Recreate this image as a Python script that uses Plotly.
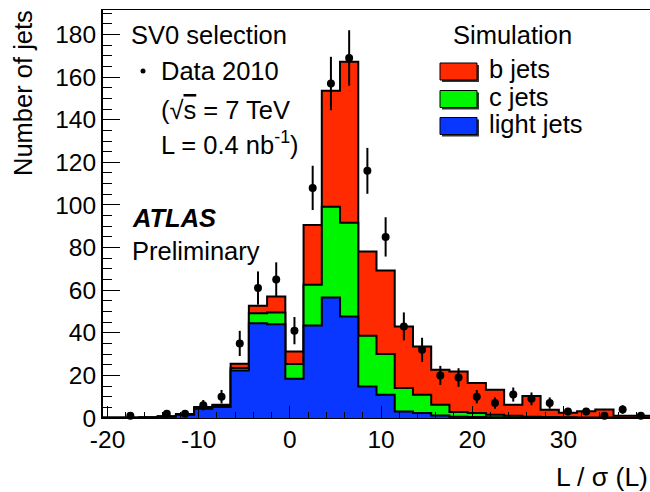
import numpy as np
import plotly.graph_objects as go

# ---------------- data ----------------
bin_centers = [-19.5, -17.5, -15.5, -13.5, -11.5, -9.5, -7.5, -5.5, -3.5, -1.5,
               0.5, 2.5, 4.5, 6.5, 8.5, 10.5, 12.5, 14.5, 16.5, 18.5,
               20.5, 22.5, 24.5, 26.5, 28.5, 30.5, 32.5, 34.5, 36.5, 38.5]
bin_width = 2.0

data_2010 = [0, 1, 0, 2, 2, 6, 10, 35, 61, 65,
             41, 108, 157, 169, 116, 85, 43, 32, 20, 19,
             10, 7, 11, 9, 7, 3, 3, 1, 4, 1]

light_jets = [0.1, 0.1, 0.2, 0.6, 1.5, 4.3, 5.2, 22.3, 44.5, 44.0,
              18.4, 43.4, 56.5, 47.6, 14.8, 10.9, 3.1, 2.3, 1.2, 0.6,
              0.5, 0.3, 0.2, 0.1, 0.1, 0.1, 0.05, 0.05, 0.0, 0.0]
c_jets = [0.05, 0.05, 0.05, 0.1, 0.2, 0.5, 0.6, 1.2, 4.7, 5.5,
          6.9, 19.1, 42.7, 44.1, 23.8, 19.1, 11.0, 8.6, 5.0, 2.2,
          1.8, 1.2, 0.8, 0.5, 0.4, 0.3, 0.2, 0.2, 0.1, 0.1]
b_jets = [0.05, 0.05, 0.05, 0.1, 0.2, 0.4, 0.4, 2.0, 3.5, 7.5,
          5.9, 28.1, 54.4, 75.5, 39.5, 39.2, 28.8, 22.7, 16.4, 19.0,
          14.1, 11.8, 5.2, 9.7, 3.4, 2.1, 2.9, 3.7, 1.0, 1.0]

x_ticks = [-20, -10, 0, 10, 20, 30]
x_tick_labels = ["-20", "-10", "0", "10", "20", "30"]
y_ticks = [0, 20, 40, 60, 80, 100, 120, 140, 160, 180]
y_tick_labels = ["0", "20", "40", "60", "80", "100", "120", "140", "160", "180"]

# ---------------- styling ----------------
W, H = 650, 492
L, R, T, B = 103, 650, 10, 418
FONT = "Liberation Sans, Arial, Helvetica, sans-serif"
FS_TICK = 24.5
FS = 25.5
RED, GREEN, BLUE = "#ff2a00", "#00f500", "#0a37ff"


def pxx(x):
    return (x - L) / (R - L)


def pxy(y):
    return (B - y) / (B - T)


centers = np.array(bin_centers)
edges = np.concatenate([centers - bin_width / 2, [centers[-1] + bin_width / 2]])
light = np.array(light_jets)
cl = light + np.array(c_jets)
tot = cl + np.array(b_jets)


def step_trace(vals, color):
    y = np.concatenate([vals, [vals[-1]]])
    return go.Scatter(x=edges, y=y, mode="lines", line=dict(shape="hv", color="black", width=2),
                      fill="tozeroy", fillcolor=color, hoverinfo="skip", showlegend=False)


fig = go.Figure()
fig.add_trace(step_trace(tot, RED))
fig.add_trace(step_trace(cl, GREEN))
fig.add_trace(step_trace(light, BLUE))

d = np.array(data_2010, dtype=float)
mask = d > 0
fig.add_trace(go.Scatter(
    x=centers[mask], y=d[mask], mode="markers",
    marker=dict(color="black", size=8),
    error_y=dict(type="data", array=np.sqrt(d[mask]), color="black", thickness=2, width=0),
    showlegend=False, cliponaxis=False))

fig.update_xaxes(range=[edges[0], edges[-1]], tickvals=x_ticks, ticktext=x_tick_labels,
                 ticks="inside", ticklen=12,
                 tickwidth=1, tickcolor="black", showline=True, linecolor="black", linewidth=1,
                 mirror=True, showgrid=False, zeroline=False,
                 minor=dict(dtick=2, tick0=0, ticks="inside", ticklen=6, tickcolor="black", showgrid=False),
                 tickfont=dict(family=FONT, size=FS_TICK, color="black"))
fig.update_yaxes(range=[0, 191.5], tickvals=y_ticks, ticktext=y_tick_labels,
                 ticks="inside", ticklen=17,
                 tickwidth=1, tickcolor="black", showline=True, linecolor="black", linewidth=2,
                 showgrid=False, zeroline=False,
                 minor=dict(dtick=5, tick0=0, ticks="inside", ticklen=8.5, tickcolor="black", showgrid=False),
                 tickfont=dict(family=FONT, size=FS_TICK, color="black"))

ann = []


def text(s, x, y, xanchor="left", yanchor="middle", angle=0, size=FS):
    ann.append(dict(text=s, x=pxx(x), y=pxy(y), xref="paper", yref="paper", showarrow=False,
                    xanchor=xanchor, yanchor=yanchor, textangle=angle, borderpad=0, borderwidth=0,
                    font=dict(family=FONT, size=size, color="black")))


text("SV0 selection", 131, 34.5)
text("Data 2010", 161, 71)
text("(√<span style='text-decoration:overline'>s</span> = 7 TeV", 161, 110)
text("L = 0.4 nb<sup>-1</sup>)", 161, 143)
text("<b><i>ATLAS</i></b>", 132, 217.5)
text("Preliminary", 132, 251)
text("Simulation", 453, 34.7)
text("b jets", 489, 69)
text("c jets", 489, 97)
text("light jets", 489, 124)
text("L / σ (L)", 648, 477, xanchor="right", size=26.5)
text("Number of jets", 23, 10, xanchor="center", yanchor="top", angle=-90)

shapes = []
# Data 2010 bullet
shapes.append(dict(type="circle", xref="paper", yref="paper", x0=pxx(140.5), x1=pxx(145.5),
                   y0=pxy(73.5), y1=pxy(68.5), fillcolor="black", line=dict(width=0)))
# legend boxes
for (y0, col) in [(63, RED), (90.5, GREEN), (117.5, BLUE)]:
    shapes.append(dict(type="rect", xref="paper", yref="paper", x0=pxx(442), x1=pxx(479),
                       y0=pxy(y0 + 2), y1=pxy(y0 + 19), fillcolor="#333333", line=dict(width=0)))
    shapes.append(dict(type="rect", xref="paper", yref="paper", x0=pxx(440), x1=pxx(477),
                       y0=pxy(y0), y1=pxy(y0 + 17), fillcolor=col, line=dict(color="black", width=1)))

fig.update_layout(width=W, height=H, margin=dict(l=L, r=W - R, t=T, b=H - B, autoexpand=False),
                  plot_bgcolor="white", paper_bgcolor="white", showlegend=False,
                  annotations=ann, shapes=shapes)

fig.write_html("out.html")
